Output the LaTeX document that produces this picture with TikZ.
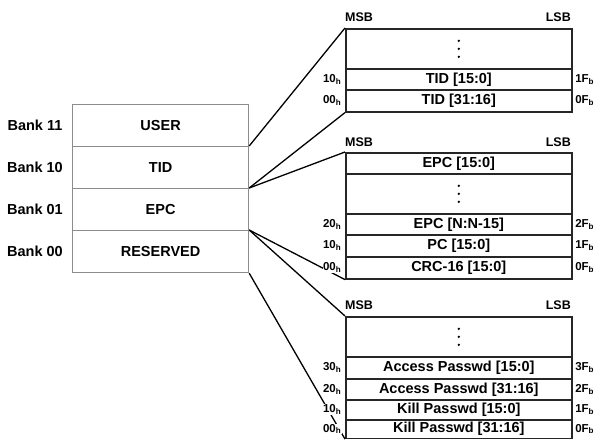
\documentclass[tikz,border=0pt]{standalone}
\usepackage{fontspec}
\setmainfont{Liberation Sans}
\begin{document}
\begin{tikzpicture}[x=1pt,y=-1pt,
  bankrow/.style={draw=black!45, line width=1.2pt, minimum width=176pt, minimum height=42pt, inner sep=0pt, anchor=north west, font=\bfseries\fontsize{14.5}{16}\selectfont},
  banklbl/.style={font=\bfseries\fontsize{14.5}{16}\selectfont, inner sep=1pt},
  memrow/.style={draw=black!85, line width=1.6pt, minimum width=226pt, inner sep=0pt, anchor=north west, font=\bfseries\fontsize{14.5}{15}\selectfont},
  hexl/.style={font=\bfseries\fontsize{11.5}{12}\selectfont, fill=white, inner sep=0.5pt, anchor=east},
  hexr/.style={font=\bfseries\fontsize{11.5}{12}\selectfont, fill=white, inner sep=0.5pt, anchor=west},
  msb/.style={font=\bfseries\fontsize{12.5}{13}\selectfont, inner sep=0pt},
  conn/.style={black, line width=1.3pt}
]
\useasboundingbox (0,0) rectangle (594,439);

% ---------- Bank stack ----------
\node[bankrow] (buser) at (72,104) {USER};
\node[bankrow] (btid)  at (72,146) {TID};
\node[bankrow] (bepc)  at (72,188) {EPC};
\node[bankrow] (bres)  at (72,230) {RESERVED};
\node[banklbl] (l11) at (35,125) {Bank 11};
\node[banklbl] (l10) at (35,167) {Bank 10};
\node[banklbl] (l01) at (35,209) {Bank 01};
\node[banklbl] (l00) at (35,251) {Bank 00};

% ---------- TID map ----------
\node[memrow, minimum height=40pt] (t0) at (345,28) {};
\node[memrow, minimum height=21pt] (t1) at (345,68) {TID [15:0]};
\node[memrow, minimum height=22pt] (t2) at (345,89) {TID [31:16]};
\node[msb, anchor=south west] (tmsb) at (345,22) {MSB};
\node[msb, anchor=south east] (tlsb) at (571,22) {LSB};

% ---------- EPC map ----------
\node[memrow, minimum height=21pt] (e0) at (345,152) {EPC [15:0]};
\node[memrow, minimum height=40pt] (e1) at (345,173) {};
\node[memrow, minimum height=21pt] (e2) at (345,213) {EPC [N:N-15]};
\node[memrow, minimum height=22pt] (e3) at (345,234) {PC [15:0]};
\node[memrow, minimum height=22pt] (e4) at (345,256) {CRC-16 [15:0]};
\node[msb, anchor=south west] (emsb) at (345,147) {MSB};
\node[msb, anchor=south east] (elsb) at (571,147) {LSB};

% ---------- Reserved map ----------
\node[memrow, minimum height=40pt] (r0) at (345,316) {};
\node[memrow, minimum height=22pt] (r1) at (345,356) {Access Passwd [15:0]};
\node[memrow, minimum height=21pt] (r2) at (345,378) {Access Passwd [31:16]};
\node[memrow, minimum height=20pt] (r3) at (345,399) {Kill Passwd [15:0]};
\node[memrow, minimum height=18.5pt] (r4) at (345,419) {Kill Passwd [31:16]};
\node[msb, anchor=south west] (rmsb) at (345,310) {MSB};
\node[msb, anchor=south east] (rlsb) at (571,310) {LSB};

% ---------- vertical dots ----------
\foreach \n in {t0,e1,r0}{
  \fill (\n.center) ++(0,-8) circle (1.3pt) ++(0,8) circle (1.3pt) ++(0,8) circle (1.3pt);
}

% ---------- connectors ----------
\draw[conn] (btid.north east) -- (t0.north west);
\draw[conn] (bepc.north east) -- (t2.south west);
\draw[conn] (bepc.north east) -- (e0.north west);
\draw[conn] (bres.north east) -- (e4.south west);
\draw[conn] (bres.north east) -- (r0.north west);
\draw[conn] (bres.south east) -- (r4.south west);

% ---------- address labels ----------
\node[hexl] (tl1) at ([xshift=-3pt]t1.west) {10\textsubscript{h}};
\node[hexl] (tl2) at ([xshift=-3pt]t2.west) {00\textsubscript{h}};
\node[hexr] (tr1) at ([xshift=2pt]t1.east) {1F\textsubscript{b}};
\node[hexr] (tr2) at ([xshift=2pt]t2.east) {0F\textsubscript{b}};

\node[hexl] (el2) at ([xshift=-3pt]e2.west) {20\textsubscript{h}};
\node[hexl] (el3) at ([xshift=-3pt]e3.west) {10\textsubscript{h}};
\node[hexl] (el4) at ([xshift=-3pt]e4.west) {00\textsubscript{h}};
\node[hexr] (er2) at ([xshift=2pt]e2.east) {2F\textsubscript{b}};
\node[hexr] (er3) at ([xshift=2pt]e3.east) {1F\textsubscript{b}};
\node[hexr] (er4) at ([xshift=2pt]e4.east) {0F\textsubscript{b}};

\node[hexl] (rl1) at ([xshift=-3pt]r1.west) {30\textsubscript{h}};
\node[hexl] (rl2) at ([xshift=-3pt]r2.west) {20\textsubscript{h}};
\node[hexl] (rl3) at ([xshift=-3pt]r3.west) {10\textsubscript{h}};
\node[hexl] (rl4) at ([xshift=-3pt]r4.west) {00\textsubscript{h}};
\node[hexr] (rr1) at ([xshift=2pt]r1.east) {3F\textsubscript{b}};
\node[hexr] (rr2) at ([xshift=2pt]r2.east) {2F\textsubscript{b}};
\node[hexr] (rr3) at ([xshift=2pt]r3.east) {1F\textsubscript{b}};
\node[hexr] (rr4) at ([xshift=2pt]r4.east) {0F\textsubscript{b}};
\end{tikzpicture}
\end{document}
